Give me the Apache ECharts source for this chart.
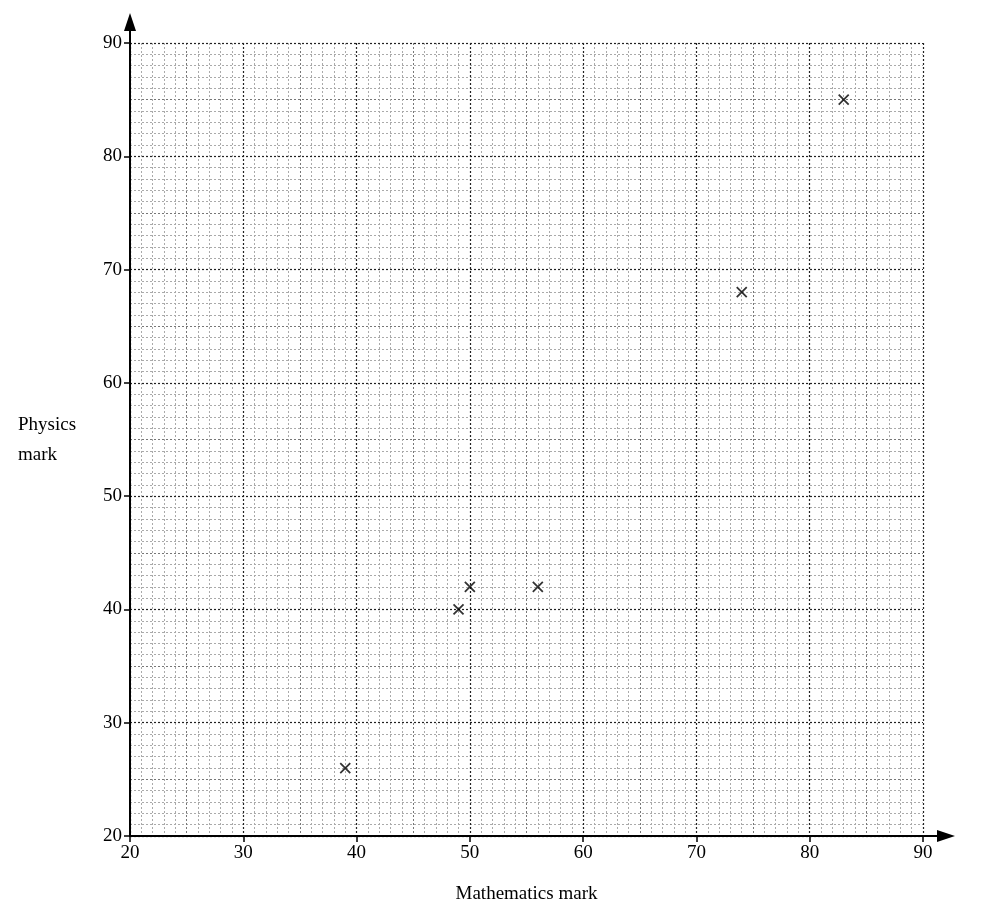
<!DOCTYPE html>
<html><head><meta charset="utf-8">
<script src="https://cdn.jsdelivr.net/npm/echarts@6/dist/echarts.min.js"></script>
<style>html,body{margin:0;background:#fff}#c{width:995px;height:917px}</style>
</head><body><div id="c"></div>
<script>
const mathMarks = [39, 49, 50, 56, 74, 83];
const physicsMarks = [26, 40, 42, 42, 68, 85];
const xName = 'Mathematics mark';
const yName = 'Physics\nmark';
const F = 'Liberation Serif, Times New Roman, serif';
const chart = echarts.init(document.getElementById('c'));
const lbl = {fontFamily: F, fontSize: 19, color: '#000'};
function ax(main, pos) {
  return {
    type: 'value', min: 20, max: 90, interval: main ? 10 : 5, position: pos,
    show: true,
    axisLine: {show: main, lineStyle: {color: '#000', width: 2}},
    axisTick: {show: main, length: 6, lineStyle: {color: '#000', width: 1.5}},
    axisLabel: main ? Object.assign({margin: 8}, lbl) : {show: false},
    splitLine: {show: true, lineStyle: main ? {color: '#222', type: [2, 2], width: 1.2} : {color: '#777', type: [2, 2], width: 1}},
    minorTick: {show: false, splitNumber: 5},
    minorSplitLine: {show: !main, lineStyle: {color: '#aaa', type: [2, 2], width: 1}},
    z: main ? 3 : 1
  };
}
chart.setOption({
  animation: false,
  grid: {left: 130, right: 72, top: 43, bottom: 81},
  xAxis: [ax(false, 'bottom'), ax(true, 'bottom')],
  yAxis: [ax(false, 'left'), ax(true, 'left')],
  series: [{
    type: 'scatter', xAxisIndex: 1, yAxisIndex: 1,
    data: mathMarks.map((m, i) => [m, physicsMarks[i]]),
    symbol: 'path://M0,0L10,10M10,0L0,10', symbolSize: 10,
    itemStyle: {color: 'none', borderColor: '#000', borderWidth: 1.8}, z: 5
  }]
});
const o = chart.convertToPixel({xAxisIndex: 1, yAxisIndex: 1}, [20, 20]);
const ex = chart.convertToPixel({xAxisIndex: 1, yAxisIndex: 1}, [90, 90]);
chart.setOption({graphic: [
  {type: 'line', shape: {x1: ex[0], y1: o[1], x2: ex[0] + 22, y2: o[1]}, style: {stroke: '#000', lineWidth: 2}},
  {type: 'polygon', shape: {points: [[ex[0] + 32, o[1]], [ex[0] + 14, o[1] - 6], [ex[0] + 14, o[1] + 6]]}, style: {fill: '#000'}},
  {type: 'line', shape: {x1: o[0], y1: ex[1], x2: o[0], y2: ex[1] - 20}, style: {stroke: '#000', lineWidth: 2}},
  {type: 'polygon', shape: {points: [[o[0], ex[1] - 30], [o[0] - 6, ex[1] - 12], [o[0] + 6, ex[1] - 12]]}, style: {fill: '#000'}},
  {type: 'text', left: 18, top: 410, style: {text: yName, font: '19px ' + F, fill: '#000', lineHeight: 30}},
  {type: 'text', x: (o[0] + ex[0]) / 2, y: 885, style: {text: xName, font: '19px ' + F, fill: '#000', textAlign: 'center'}}
]});
</script></body></html>
